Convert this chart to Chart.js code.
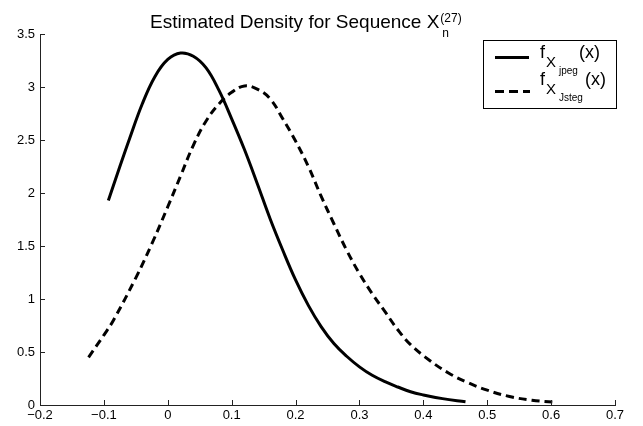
<!DOCTYPE html>
<html>
<head>
<meta charset="utf-8">
<script src="https://cdn.jsdelivr.net/npm/chart.js@4.4.1/dist/chart.umd.min.js"></script>
<style>
  html, body { margin: 0; padding: 0; background: #fff; }
  #wrap { width: 643px; height: 426px; }
</style>
</head>
<body>
<div id="wrap"><canvas id="chart1" width="643" height="426"></canvas></div>
<script>
// estimated density, jpeg coefficients
const jpegX = [-0.093, -0.075, -0.06, -0.04, -0.02, 0.0, 0.02, 0.04, 0.06, 0.08, 0.10, 0.12, 0.14, 0.16, 0.18, 0.20, 0.22, 0.24, 0.26, 0.28, 0.30, 0.32, 0.34, 0.36, 0.38, 0.40, 0.43, 0.466];
const jpegY = [1.93, 2.25, 2.51, 2.84, 3.10, 3.26, 3.32, 3.29, 3.18, 2.97, 2.70, 2.41, 2.09, 1.76, 1.46, 1.18, 0.94, 0.74, 0.58, 0.46, 0.36, 0.28, 0.22, 0.17, 0.125, 0.095, 0.06, 0.03];

// estimated density, Jsteg coefficients
const jstegX = [-0.124, -0.10, -0.085, -0.05, -0.025, 0.0, 0.02, 0.04, 0.06, 0.08, 0.10, 0.12, 0.14, 0.16, 0.18, 0.20, 0.22, 0.24, 0.26, 0.28, 0.30, 0.32, 0.34, 0.36, 0.38, 0.41, 0.44, 0.47, 0.50, 0.535, 0.57, 0.606];
const jstegY = [0.45, 0.66, 0.80, 1.20, 1.52, 1.87, 2.16, 2.45, 2.68, 2.84, 2.95, 3.01, 2.98, 2.89, 2.70, 2.49, 2.25, 1.97, 1.71, 1.46, 1.24, 1.05, 0.88, 0.71, 0.57, 0.42, 0.30, 0.21, 0.14, 0.08, 0.045, 0.025];

const xTicks = [-0.2, -0.1, 0, 0.1, 0.2, 0.3, 0.4, 0.5, 0.6, 0.7];
const yTicks = [0, 0.5, 1, 1.5, 2, 2.5, 3, 3.5];

const FONT = '"Liberation Sans", Arial, Helvetica, sans-serif';

function toPoints(xs, ys) {
  return xs.map((x, i) => ({ x: x, y: ys[i] }));
}

function fmt(v) {
  const s = String(Number(v.toFixed(1)));
  return s.replace('-', '\u2212');
}

// inward tick marks, title with sub/superscript, boxed legend
const decorations = {
  id: 'decorations',
  afterDraw(chart) {
    const ctx = chart.ctx;
    const xs = chart.scales.x, ys = chart.scales.y;
    const area = chart.chartArea;
    ctx.save();
    ctx.strokeStyle = '#222';
    ctx.lineWidth = 1;
    ctx.beginPath();
    xTicks.forEach(v => {
      const px = Math.round(xs.getPixelForValue(v)) + 0.5;
      ctx.moveTo(px, area.bottom);
      ctx.lineTo(px, area.bottom - 5);
    });
    yTicks.forEach(v => {
      const py = Math.round(ys.getPixelForValue(v)) + 0.5;
      ctx.moveTo(area.left, py);
      ctx.lineTo(area.left + 5, py);
    });
    ctx.stroke();

    // title
    ctx.fillStyle = '#000';
    ctx.textBaseline = 'alphabetic';
    ctx.textAlign = 'left';
    ctx.font = '19px ' + FONT;
    const main = 'Estimated Density for Sequence X';
    let tx = 150;
    ctx.fillText(main, tx, 28);
    tx += ctx.measureText(main).width + 1;
    ctx.font = '12px ' + FONT;
    ctx.fillText('(27)', tx, 22);
    ctx.fillText('n', tx + 2, 37);

    // legend
    const lx = 483.5, ly = 40.5, lw = 133, lh = 68;
    ctx.fillStyle = '#fff';
    ctx.fillRect(lx, ly, lw, lh);
    ctx.strokeStyle = '#000';
    ctx.lineWidth = 1;
    ctx.strokeRect(lx, ly, lw, lh);

    ctx.lineWidth = 3;
    ctx.setLineDash([]);
    ctx.beginPath();
    ctx.moveTo(495, 57.5);
    ctx.lineTo(529, 57.5);
    ctx.stroke();
    ctx.setLineDash([9, 5]);
    ctx.beginPath();
    ctx.moveTo(495, 91.5);
    ctx.lineTo(530, 91.5);
    ctx.stroke();
    ctx.setLineDash([]);

    ctx.fillStyle = '#000';
    const rows = [
      { base: 58, sub: 'jpeg', px: 579 },
      { base: 85, sub: 'Jsteg', px: 585 }
    ];
    rows.forEach(r => {
      ctx.font = '18px ' + FONT;
      ctx.fillText('f', 540, r.base);
      ctx.font = '15px ' + FONT;
      ctx.fillText('X', 546, r.base + 9);
      ctx.font = '10px ' + FONT;
      ctx.fillText(r.sub, 559, r.base + 16);
      ctx.font = '18px ' + FONT;
      ctx.fillText('(x)', r.px, r.base);
    });
    ctx.restore();
  }
};

const config1 = {
  type: 'scatter',
  data: {
    datasets: [
      {
        label: 'jpeg',
        data: toPoints(jpegX, jpegY),
        showLine: true,
        borderColor: '#000',
        borderWidth: 3,
        pointRadius: 0,
        tension: 0.4
      },
      {
        label: 'Jsteg',
        data: toPoints(jstegX, jstegY),
        showLine: true,
        borderColor: '#000',
        borderWidth: 3,
        borderDash: [8, 5],
        pointRadius: 0,
        tension: 0.4
      }
    ]
  },
  options: {
    responsive: false,
    animation: false,
    layout: { padding: { top: 34, right: 28, left: 0, bottom: 0 } },
    plugins: {
      legend: { display: false },
      title: { display: false },
      tooltip: { enabled: false }
    },
    scales: {
      x: {
        type: 'linear',
        min: -0.2,
        max: 0.7,
        afterBuildTicks: (scale) => { scale.ticks = xTicks.map(v => ({ value: v })); },
        afterFit: (scale) => { scale.height = 21; },
        grid: { drawOnChartArea: false, drawTicks: false },
        border: { color: '#222', width: 1 },
        ticks: {
          padding: 3,
          maxRotation: 0,
          autoSkip: false,
          color: '#000',
          font: { family: FONT, size: 13 },
          callback: (v) => fmt(v)
        }
      },
      y: {
        min: 0,
        max: 3.5,
        afterBuildTicks: (scale) => { scale.ticks = yTicks.map(v => ({ value: v })); },
        afterFit: (scale) => { scale.width = 40; },
        grid: { drawOnChartArea: false, drawTicks: false },
        border: { color: '#222', width: 1 },
        ticks: {
          padding: 5,
          color: '#000',
          font: { family: FONT, size: 13 },
          callback: (v) => fmt(v)
        }
      }
    }
  },
  plugins: [decorations]
};

const chart1 = new Chart(document.getElementById('chart1'), config1);
</script>
</body>
</html>
